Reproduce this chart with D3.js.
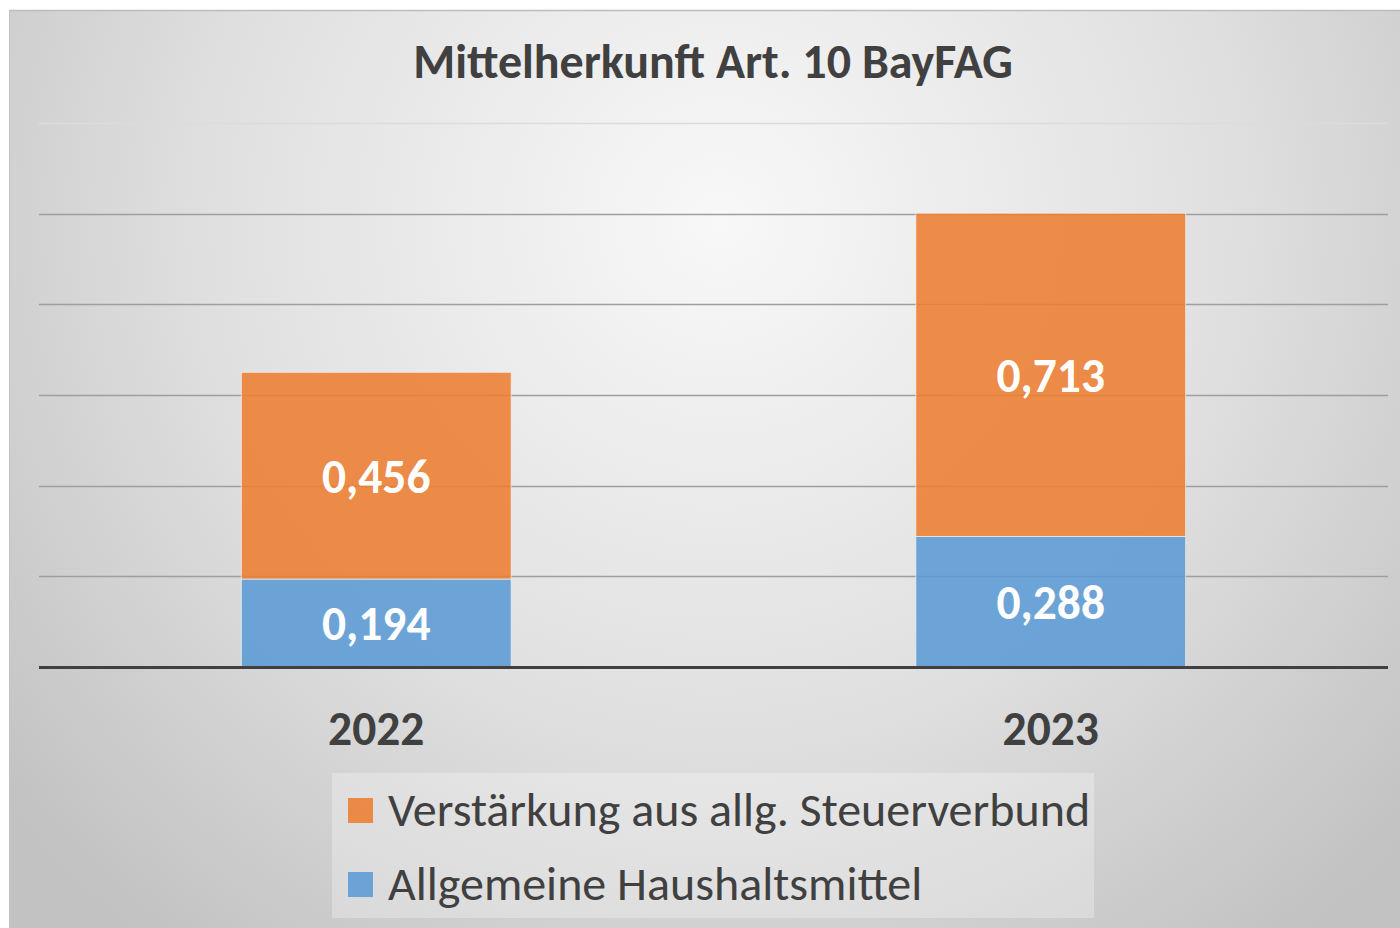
<!DOCTYPE html>
<html>
<head>
<meta charset="utf-8">
<script src="https://cdn.jsdelivr.net/npm/d3@7"></script>
<style>
  html, body { margin: 0; padding: 0; background: #ffffff; }
  svg { display: block; }
  text { font-family: Carlito, Lato, "Open Sans", sans-serif; }
</style>
</head>
<body>
<svg id="chart" width="1400" height="928"></svg>
<script>
// Data: funding sources for Art. 10 BayFAG (values in billions, German decimal comma)
const years = ["2022", "2023"];
const haushaltsmittel = [0.194, 0.288];   // Allgemeine Haushaltsmittel
const steuerverbund = [0.456, 0.713];     // Verstärkung aus allg. Steuerverbund
const yTicks = [0, 0.2, 0.4, 0.6, 0.8, 1.0, 1.2];
const seriesNames = ["Verstärkung aus allg. Steuerverbund", "Allgemeine Haushaltsmittel"];
const title = "Mittelherkunft Art. 10 BayFAG";

const W = 1400, H = 928;
const svg = d3.select("#chart");
const defs = svg.append("defs");

// Chart-area background: soft radial gradient, lighter near top centre
const bg = defs.append("radialGradient")
  .attr("id", "bgGrad")
  .attr("gradientUnits", "userSpaceOnUse")
  .attr("cx", 720).attr("cy", 220).attr("r", 920);
bg.append("stop").attr("offset", "0%").attr("stop-color", "#f8f8f8");
bg.append("stop").attr("offset", "55%").attr("stop-color", "#e0e0e0");
bg.append("stop").attr("offset", "100%").attr("stop-color", "#c2c2c2");

const frame = { x: 9, y: 10 };
svg.append("rect")
  .attr("x", frame.x).attr("y", frame.y)
  .attr("width", W - frame.x).attr("height", H - frame.y)
  .attr("fill", "url(#bgGrad)");
svg.append("line")
  .attr("x1", frame.x).attr("x2", W).attr("y1", frame.y + 0.5).attr("y2", frame.y + 0.5)
  .attr("stroke", "#bdbdbd").attr("stroke-width", 1.5);
svg.append("line")
  .attr("x1", frame.x + 0.5).attr("x2", frame.x + 0.5).attr("y1", frame.y).attr("y2", H)
  .attr("stroke", "#c4c4c4").attr("stroke-width", 1);

// Plot area
const plot = { left: 39, right: 1388, top: 123, bottom: 667 };

const x = d3.scaleBand()
  .domain(years)
  .range([plot.left, plot.right])
  .paddingInner(0.6)
  .paddingOuter(0.3);

const y = d3.scaleLinear()
  .domain([0, 1.2])
  .range([plot.bottom, plot.top]);

// Horizontal gridlines
const grid = svg.append("g").attr("class", "grid");
grid.selectAll("line")
  .data(yTicks.filter(d => d > 0))
  .join("line")
  .attr("x1", plot.left).attr("x2", plot.right)
  .attr("y1", d => Math.round(y(d)) + 0.5)
  .attr("y2", d => Math.round(y(d)) + 0.5)
  .attr("stroke", d => d === 1.2 ? "#dcdcdc" : "#9e9e9e")
  .attr("stroke-width", 1.5);

// Stacked series
const rows = years.map((yr, i) => ({
  year: yr,
  haushalt: haushaltsmittel[i],
  steuer: steuerverbund[i]
}));
const stack = d3.stack().keys(["haushalt", "steuer"]);
const layers = stack(rows);
const colors = { haushalt: "#5b9bd5", steuer: "#ed7d31" };

const barsG = svg.append("g").attr("class", "bars");
layers.forEach(layer => {
  const g = barsG.append("g");
  g.selectAll("rect")
    .data(layer)
    .join("rect")
    .attr("x", d => x(d.data.year))
    .attr("width", x.bandwidth())
    .attr("y", d => y(d[1]))
    .attr("height", d => y(d[0]) - y(d[1]))
    .attr("fill", colors[layer.key])
    .attr("fill-opacity", 0.88)
    .attr("stroke", "#f2f2f2")
    .attr("stroke-opacity", 0.7)
    .attr("stroke-width", 1);

  g.selectAll("text")
    .data(layer)
    .join("text")
    .attr("x", d => x(d.data.year) + x.bandwidth() / 2)
    .attr("y", d => (y(d[0]) + y(d[1])) / 2)
    .attr("dy", "0.36em")
    .attr("text-anchor", "middle")
    .attr("fill", "#ffffff")
    .attr("font-weight", 700)
    .attr("font-size", 47.5)
    .text(d => d3.format(".3f")(d[1] - d[0]).replace(".", ","));
});

// Baseline axis
svg.append("line")
  .attr("x1", plot.left).attr("x2", plot.right)
  .attr("y1", y(0) + 0.5).attr("y2", y(0) + 0.5)
  .attr("stroke", "#404040").attr("stroke-width", 3);

// Category labels
const xAxis = d3.axisBottom(x).tickSize(0).tickPadding(0);
const xg = svg.append("g")
  .attr("transform", `translate(0,${plot.bottom})`)
  .call(xAxis);
xg.select(".domain").remove();
xg.selectAll("text")
  .attr("y", 78)
  .attr("dy", 0)
  .attr("fill", "#404040")
  .attr("font-weight", 700)
  .attr("font-size", 47.5)
  .style("font-family", "Carlito, Lato, 'Open Sans', sans-serif");

// Title
svg.append("text")
  .attr("x", 713).attr("y", 78)
  .attr("text-anchor", "middle")
  .attr("fill", "#404040")
  .attr("font-weight", 700)
  .attr("font-size", 48)
  .text(title);

// Legend
const legend = svg.append("g").attr("transform", "translate(332,773)");
legend.append("rect")
  .attr("width", 762).attr("height", 145)
  .attr("fill", "#ffffff").attr("fill-opacity", 0.28);
const legendItems = [
  { name: seriesNames[0], color: colors.steuer },
  { name: seriesNames[1], color: colors.haushalt }
];
const li = legend.selectAll("g.item")
  .data(legendItems)
  .join("g")
  .attr("class", "item")
  .attr("transform", (d, i) => `translate(16,${25 + i * 74})`);
li.append("rect")
  .attr("width", 25).attr("height", 25)
  .attr("fill", d => d.color).attr("fill-opacity", 0.88);
li.append("text")
  .attr("x", 40).attr("y", 28)
  .attr("fill", "#404040")
  .attr("font-size", 48)
  .text(d => d.name);
</script>
</body>
</html>
